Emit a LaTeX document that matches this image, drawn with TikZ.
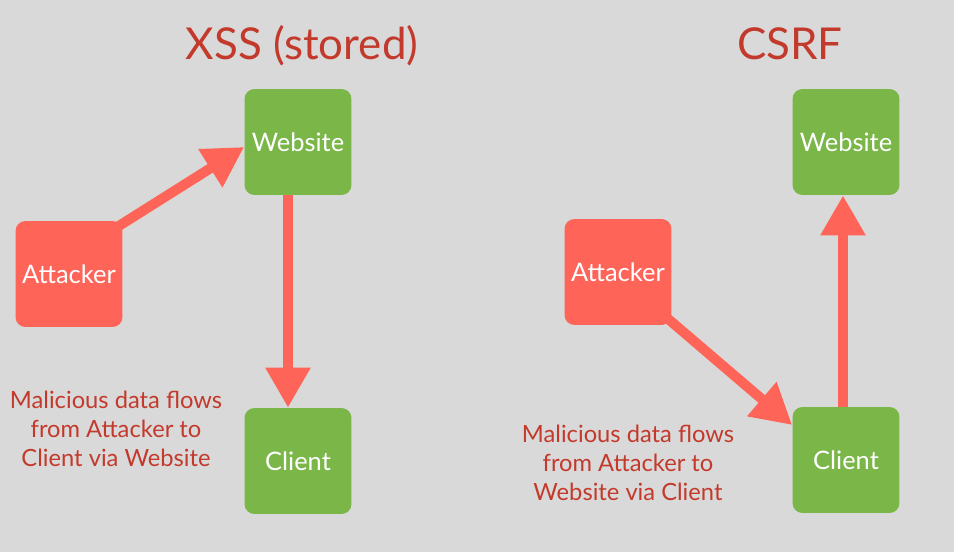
\documentclass[tikz,border=0pt]{standalone}
\usepackage{fontspec}
\setmainfont{Lato}
\usetikzlibrary{arrows.meta}
\definecolor{fondo}{HTML}{D9D9D9}
\definecolor{verde}{HTML}{7AB648}
\definecolor{rojo}{HTML}{FF6459}
\definecolor{texto}{HTML}{C33A2C}
\tikzset{
  caja/.style={rounded corners=0.2cm, minimum width=2.14cm, minimum height=2.12cm,
    text=white, font=\fontsize{14.5}{16}\selectfont},
  sitio/.style={caja, fill=verde},
  atacante/.style={caja, fill=rojo},
  titulo/.style={text=texto, font=\fontsize{25}{28}\selectfont},
  nota/.style={text=texto, align=center, font=\fontsize{13.5}{16.5}\selectfont},
  flujo/.style={draw=rojo, line width=0.2cm, -{Triangle[length=0.8cm, width=0.85cm]}}
}
\begin{document}
\begin{tikzpicture}[x=0.02cm, y=-0.02cm]
        % Fondo
        \fill[fondo] (0,0) rectangle (954,552);
        % XSS (stored)
        \node[titulo] (xtit) at (302,46) {XSS (stored)};
        \node[sitio] (xweb) at (298,142) {Website};
        \node[atacante] (xatt) at (69,274) {Attacker};
        \node[sitio] (xcli) at (298,461) {Client};
        \node[nota] (xnota) at (116,429) {Malicious data flows\\from Attacker to\\Client via Website};
        \draw[flujo] ([shift={(-0.15cm,-0.15cm)}]xatt.north east) -- ([yshift=-0.1cm]xweb.west);
        \draw[flujo] ([xshift=-0.2cm]xweb.south) -- ([xshift=-0.2cm]xcli.north);
        % CSRF
        \node[titulo] (rtit) at (790,44) {CSRF};
        \node[sitio] (rweb) at (846,142) {Website};
        \node[atacante] (ratt) at (618,272) {Attacker};
        \node[sitio] (rcli) at (846,460) {Client};
        \node[nota] (rnota) at (628,463) {Malicious data flows\\from Attacker to\\Website via Client};
        \draw[flujo] ([shift={(-0.1cm,0.15cm)}]ratt.south east) -- ([yshift=0.7cm]rcli.west);
        \draw[flujo] ([xshift=-0.06cm]rcli.north) -- ([xshift=-0.06cm]rweb.south);
\end{tikzpicture}
\end{document}
